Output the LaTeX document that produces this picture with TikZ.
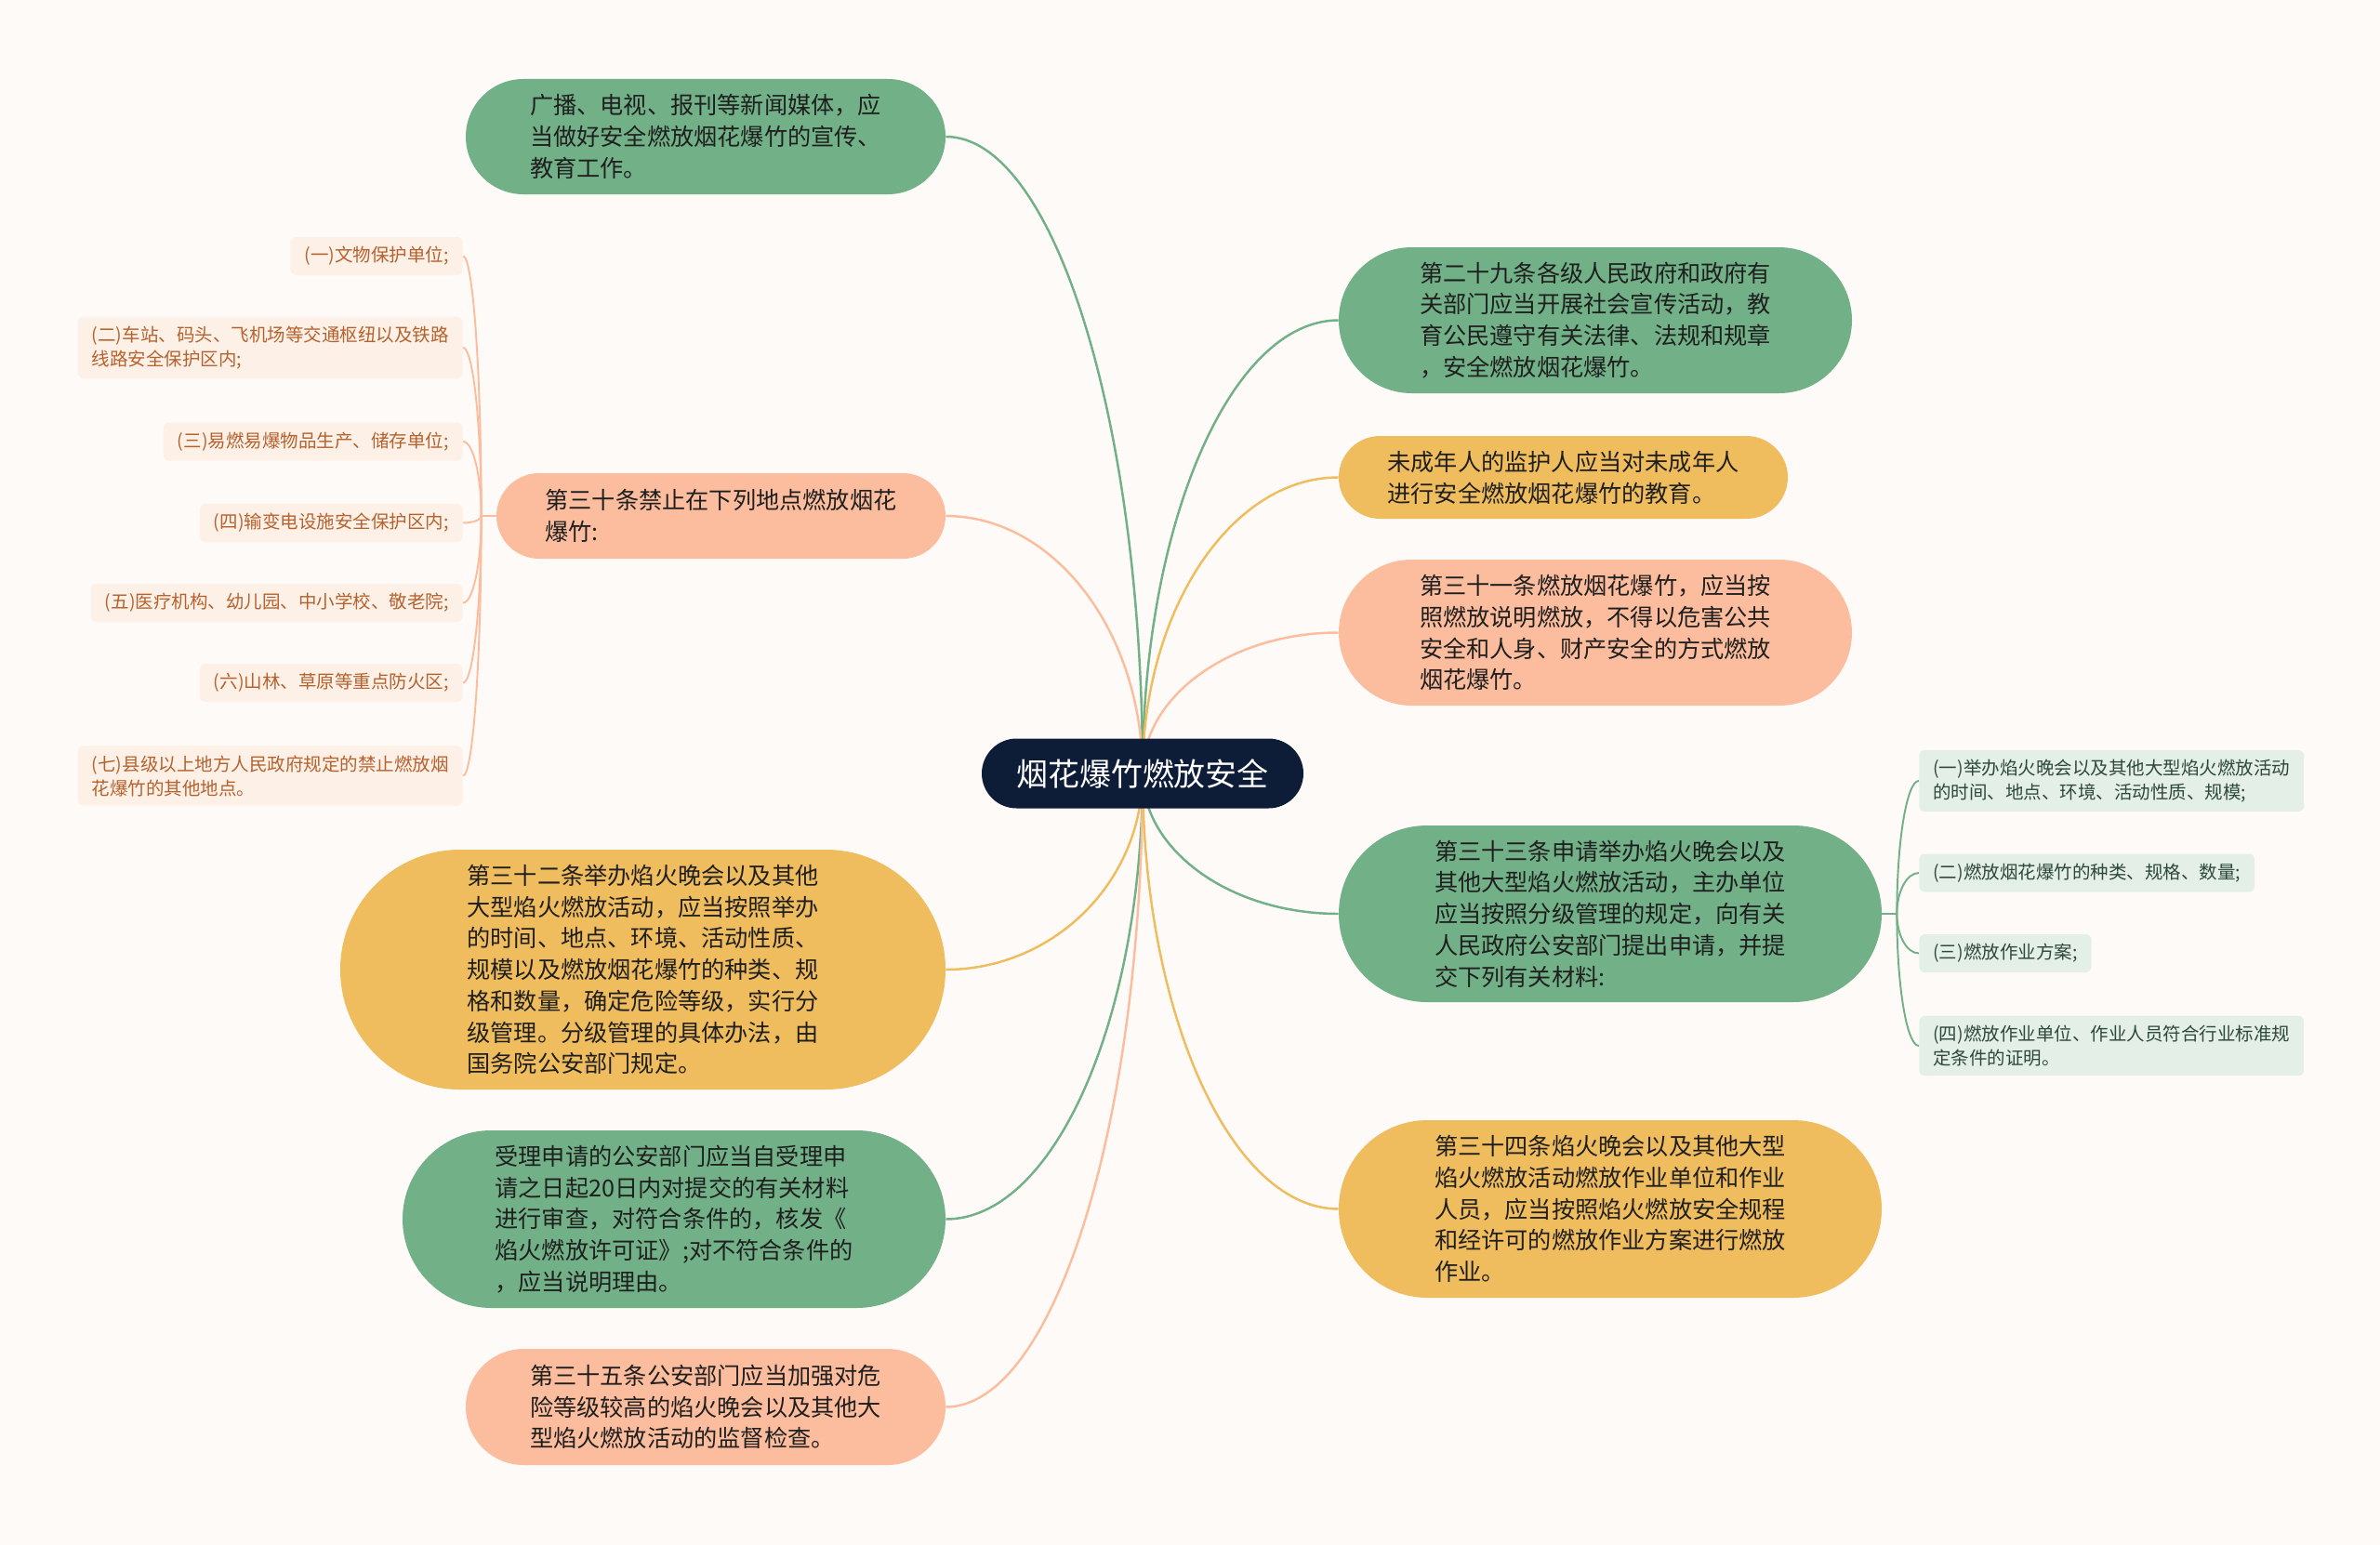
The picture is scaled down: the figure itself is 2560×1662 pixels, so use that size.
\documentclass[tikz,border=0pt]{standalone}
\usepackage{fontspec}
\setmainfont{Noto Sans CJK SC}
\usepackage{tikz}
\usetikzlibrary{calc}
\pgfdeclarelayer{background}
\pgfsetlayers{background,main}
\definecolor{paper}{RGB}{253,250,248}
\definecolor{navy}{RGB}{14,29,55}
\definecolor{sage}{RGB}{114,176,135}
\definecolor{amber}{RGB}{239,188,94}
\definecolor{peach}{RGB}{251,189,157}
\definecolor{peachbox}{RGB}{253,240,230}
\definecolor{peachtext}{RGB}{181,98,46}
\definecolor{sagebox}{RGB}{228,240,231}
\definecolor{sagetext}{RGB}{46,72,58}
\tikzstyle{root}=[rectangle,fill=navy,text=white,minimum width=346*0.2mm,minimum height=75*0.2mm,rounded corners=37.5*0.2mm,font=\fontsize{19.3pt}{23pt}\selectfont]
\tikzstyle{topic}=[rectangle,text=black!88,align=left,inner sep=0pt,font=\fontsize{14.34pt}{19.2pt}\selectfont]
\tikzstyle{sitebox}=[rectangle,fill=peachbox,text=peachtext,rounded corners=1.2mm,align=left,inner xsep=15*0.2mm,inner ysep=2mm,minimum height=41*0.2mm,font=\fontsize{11.1pt}{14.8pt}\selectfont]
\tikzstyle{docbox}=[sitebox,fill=sagebox,text=sagetext]
\tikzstyle{edge} = [line width=1.4pt]
\tikzstyle{twig} = [line width=1.1pt]
\tikzset{pill/.style 2 args={minimum width=#1*0.2mm,minimum height=#2*0.2mm,rounded corners=#2*0.1mm}}

\begin{document}
\begin{tikzpicture}[x=0.2mm,y=-0.2mm]
    % the centre
    \node[root] (root) at (1229,832) {烟花爆竹燃放安全};
    % left branches
    \node[topic,pill={516}{124},fill=sage] (media) at (759,147)
        {广播、电视、报刊等新闻媒体，应\\当做好安全燃放烟花爆竹的宣传、\\教育工作。};
    \node[topic,pill={483}{92},fill=peach] (art30) at (775.5,555)
        {第三十条禁止在下列地点燃放烟花\\爆竹:};
    \node[topic,pill={651}{258},fill=amber] (art32) at (691.5,1043)
        {第三十二条举办焰火晚会以及其他\\大型焰火燃放活动，应当按照举办\\的时间、地点、环境、活动性质、\\规模以及燃放烟花爆竹的种类、规\\格和数量，确定危险等级，实行分\\级管理。分级管理的具体办法，由\\国务院公安部门规定。};
    \node[topic,pill={584}{191},fill=sage] (permit) at (725,1311.5)
        {受理申请的公安部门应当自受理申\\请之日起20日内对提交的有关材料\\进行审查，对符合条件的，核发《\\焰火燃放许可证》;对不符合条件的\\，应当说明理由。};
    \node[topic,pill={516}{125},fill=peach] (art35) at (759,1513.5)
        {第三十五条公安部门应当加强对危\\险等级较高的焰火晚会以及其他大\\型焰火燃放活动的监督检查。};
    % right branches
    \node[topic,pill={552}{157},fill=sage] (art29) at (1716,344.5)
        {第二十九条各级人民政府和政府有\\关部门应当开展社会宣传活动，教\\育公民遵守有关法律、法规和规章\\，安全燃放烟花爆竹。};
    \node[topic,pill={483}{89},fill=amber] (minor) at (1681.5,513.5)
        {未成年人的监护人应当对未成年人\\进行安全燃放烟花爆竹的教育。};
    \node[topic,pill={552}{157},fill=peach] (art31) at (1716,680.5)
        {第三十一条燃放烟花爆竹，应当按\\照燃放说明燃放，不得以危害公共\\安全和人身、财产安全的方式燃放\\烟花爆竹。};
    \node[topic,pill={584}{190},fill=sage] (art33) at (1732,983)
        {第三十三条申请举办焰火晚会以及\\其他大型焰火燃放活动，主办单位\\应当按照分级管理的规定，向有关\\人民政府公安部门提出申请，并提\\交下列有关材料:};
    \node[topic,pill={584}{191},fill=amber] (art34) at (1732,1300.5)
        {第三十四条焰火晚会以及其他大型\\焰火燃放活动燃放作业单位和作业\\人员，应当按照焰火燃放安全规程\\和经许可的燃放作业方案进行燃放\\作业。};
    % the places of art. 30
    \foreach \y/\name/\txt in {{275.5/site1/{(一)文物保护单位;}},
        {374/site2/{(二)车站、码头、飞机场等交通枢纽以及铁路\\线路安全保护区内;}},
        {475/site3/{(三)易燃易爆物品生产、储存单位;}},
        {562.5/site4/{(四)输变电设施安全保护区内;}},
        {648.5/site5/{(五)医疗机构、幼儿园、中小学校、敬老院;}},
        {734.5/site6/{(六)山林、草原等重点防火区;}},
        {834.5/site7/{(七)县级以上地方人民政府规定的禁止燃放烟\\花爆竹的其他地点。}}}
        \node[sitebox,anchor=east] (\name) at (498,\y) {\txt};
    % the papers of art. 33
    \foreach \y/\name/\txt in {{840/doc1/{(一)举办焰火晚会以及其他大型焰火燃放活动\\的时间、地点、环境、活动性质、规模;}},
        {939/doc2/{(二)燃放烟花爆竹的种类、规格、数量;}},
        {1025.5/doc3/{(三)燃放作业方案;}},
        {1125/doc4/{(四)燃放作业单位、作业人员符合行业标准规\\定条件的证明。}}}
        \node[docbox,anchor=west] (\name) at (2064,\y) {\txt};
    \coordinate (sitefork) at ($(art30.west)+(-16,0)$);
    \coordinate (docfork) at ($(art33.east)+(16,0)$);
    % Connect everything behind the nodes
    \begin{pgfonlayer}{background}
    \fill[paper] (0,0) rectangle (2560,1662);
    \foreach \dest/\col in {media.east/sage, art30.east/peach, art32.east/amber,
        permit.east/sage, art35.east/peach, art29.west/sage, minor.west/amber,
        art31.west/peach, art33.west/sage, art34.west/amber}
        \draw[edge,draw=\col] (root.center) .. controls ($(root.center)!0.55!(root.center |- \dest)$)
            and ($(\dest)!0.55!(root.center |- \dest)$) .. (\dest);
    \draw[twig,draw=peach] (art30.west) -- (sitefork);
    \foreach \i in {1,...,7}
        \draw[twig,draw=peach] (sitefork) .. controls ($(sitefork)!0.55!(sitefork |- site\i.east)$)
            and ($(site\i.east)!0.55!(sitefork |- site\i.east)$) .. (site\i.east);
    \draw[twig,draw=sage] (art33.east) -- (docfork);
    \foreach \i in {1,...,4}
        \draw[twig,draw=sage] (docfork) .. controls ($(docfork)!0.55!(docfork |- doc\i.west)$)
            and ($(doc\i.west)!0.55!(docfork |- doc\i.west)$) .. (doc\i.west);
    \end{pgfonlayer}
\end{tikzpicture}
\end{document}
